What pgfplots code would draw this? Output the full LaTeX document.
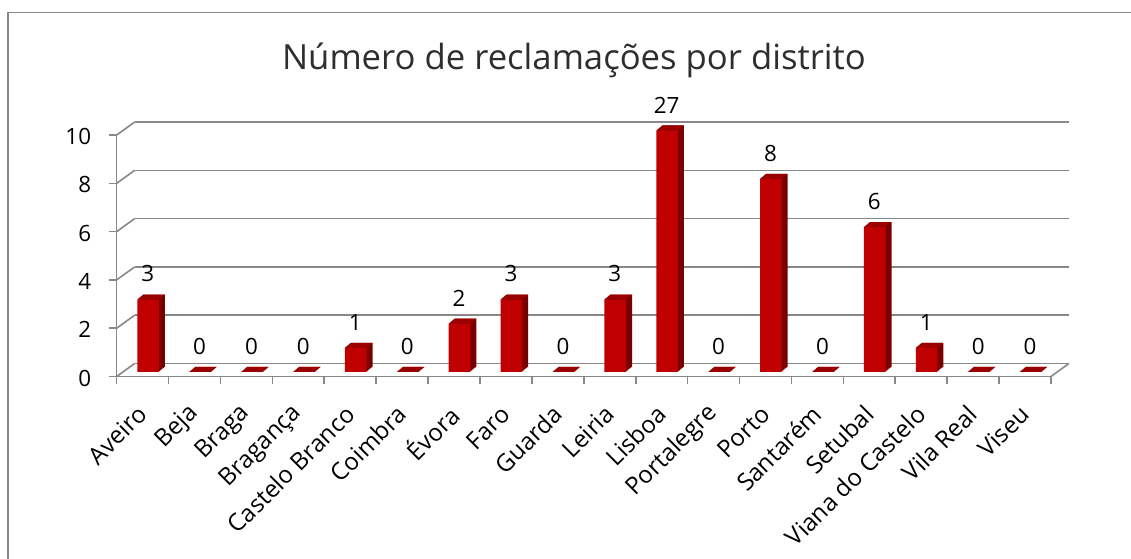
\documentclass[border=0pt]{standalone}
\usepackage{pgfplots}
\pgfplotsset{compat=1.18}
\usepackage{pgfplotstable}
\usepackage{fontspec}
\setmainfont{Open Sans}
\definecolor{front}{HTML}{C00000}
\definecolor{side}{HTML}{7A0000}
\definecolor{topc}{HTML}{9A0000}
\definecolor{gridc}{HTML}{888888}
\definecolor{titlec}{HTML}{2E2E2E}
% top face of a 3D column, relative to the data point (x, value)
\pgfdeclareplotmark{topface}{%
  \pgfpathmoveto{\pgfqpoint{-4.0pt}{3.4pt}}%
  \pgfpathlineto{\pgfqpoint{12.2pt}{3.4pt}}%
  \pgfpathlineto{\pgfqpoint{16.7pt}{7.15pt}}%
  \pgfpathlineto{\pgfqpoint{0.5pt}{7.15pt}}%
  \pgfpathclose
  \pgfusepathqfill}
\pgfplotstableread{
i v
0 3
1 0
2 0
3 0
4 1
5 0
6 2
7 3
8 0
9 3
10 27
11 0
12 8
13 0
14 6
15 1
16 0
17 0
}\data
\pgfplotsset{
  clampy/.style={y filter/.expression={y>10 ? 10 : y}},
  sidelayer/.style 2 args={ybar, bar width=16.2pt, bar shift=#1, yshift=#2,
     fill=side, draw=none, clampy, forget plot},
}
\begin{document}
\begin{tikzpicture}
\useasboundingbox (0,0) rectangle (848.25pt,419.25pt);
\draw[gridc, line width=1.1pt] (6pt,-20pt) -- (6pt,409.7pt) -- (870pt,409.7pt);
\node[anchor=base, font=\fontsize{26}{31}\selectfont, text=titlec, inner sep=0pt]
  at (430.5pt,366.75pt) {Número de reclamações por distrito};
\begin{axis}[
  at={(87.5pt,136.875pt)}, anchor=south west,
  scale only axis, width=700.7pt, height=181.1pt,
  xmin=-0.5, xmax=17.5, ymin=0, ymax=10,
  clip=false,
  axis x line*=bottom, axis y line*=left,
  axis line style={gridc, line width=1.2pt},
  xtick={-0.5,0.5,...,17.5},
  x tick label as interval,
  xticklabels={Aveiro,Beja,Braga,Bragança,Castelo Branco,Coimbra,Évora,Faro,Guarda,Leiria,Lisboa,Portalegre,Porto,Santarém,Setubal,Viana do Castelo,Vila Real,Viseu},
  ytick={0,2,...,10},
  tick align=outside,
  tick style={gridc, line width=1.2pt},
  major tick length=6pt,
  ymajorgrids,
  y grid style={gridc, line width=1.2pt, xshift=13.5pt, yshift=9.75pt},
  tick label style={font=\fontsize{16.8}{20}\selectfont, text=black},
  /pgf/number format/assume math mode=true,
  yticklabel style={anchor=east, inner sep=0pt, xshift=-13pt, yshift=-1.2pt},
  xticklabel style={inner sep=0pt, yshift=-19pt, rotate=45, anchor=east,
    font=\fontsize{18}{21}\selectfont},
]
\addplot[sidelayer={8.6pt}{7.15pt}] table[x=i,y=v]{\data};
\addplot[sidelayer={7.85pt}{6.525pt}] table[x=i,y=v]{\data};
\addplot[sidelayer={7.1pt}{5.9pt}] table[x=i,y=v]{\data};
\addplot[sidelayer={6.35pt}{5.275pt}] table[x=i,y=v]{\data};
\addplot[sidelayer={5.6pt}{4.65pt}] table[x=i,y=v]{\data};
\addplot[sidelayer={4.85pt}{4.025pt}] table[x=i,y=v]{\data};
\addplot[ybar, bar width=16.2pt, bar shift=4.1pt, yshift=3.4pt, fill=front, draw=none, clampy]
  table[x=i,y=v]{\data};
\addplot[only marks, mark=topface, mark options={fill=topc, draw=none}, clampy]
  table[x=i,y=v]{\data};
\addplot[draw=none, mark=none, clampy, nodes near coords, point meta=explicit symbolic,
  every node near coord/.append style={font=\fontsize{16.8}{20}\selectfont, text=black,
    anchor=south, inner sep=0pt, xshift=3.8pt, yshift=16.3pt}]
  table[x=i,y=v,meta=v]{\data};
\pgfplotsinvokeforeach{0,2,4,6,8,10}{
  \draw[gridc, line width=1.2pt] (axis cs:-0.5,#1) -- ++(13.5pt,9.75pt);
}
\draw[gridc, line width=1.2pt] (axis cs:17.5,0) -- ++(13.5pt,9.75pt);
\end{axis}
\end{tikzpicture}
\end{document}
